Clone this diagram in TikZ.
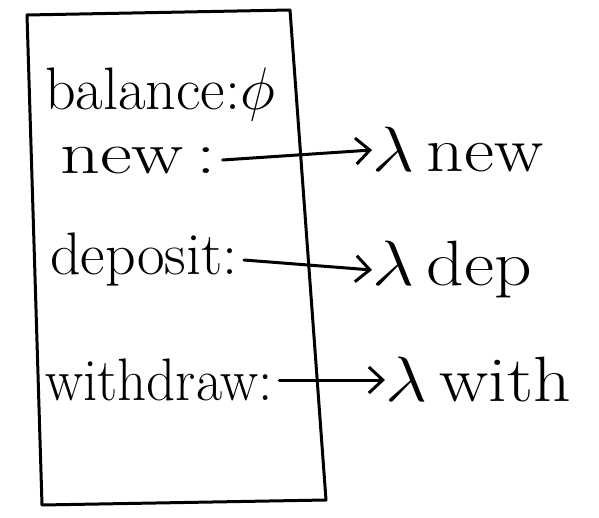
\RequirePackage{fix-cm}
\documentclass[tikz,border=0pt]{standalone}
\usepackage{amssymb}
\usepackage{tikz}
\usetikzlibrary{positioning,arrows.meta}

\tikzset{
  hand/.style={line width=3pt, line cap=round, line join=round},
  barb/.style={-{Straight Barb[length=14pt,width=26pt,line width=3pt]}},
  field/.style={anchor=west, inner sep=0pt, font=\fontsize{60}{64}\selectfont},
  lam/.style={anchor=west, inner sep=0pt, xscale=1.15, font=\fontsize{64}{68}\selectfont}
}

\begin{document}
\begin{tikzpicture}[x=1pt,y=-1pt]
		\useasboundingbox (0,0) rectangle (599,518);
		% the frame
		\draw[hand] (27,15) -- (290,10) -- (326,500) -- (42,505) -- cycle;
		% entries
		\node[field] (bal) at (45,95) {balance:$\phi$};
		\node[field, xscale=1.3] (new) at (60,160) {new\,:};
		\node[field] (dep) at (50,260) {deposit:};
		\node[field, xscale=0.95] (with) at (45,380) {withdraw:};
		% closures
		\node[lam] (lnew) at (372,150) {$\lambda$\,new};
		\node[lam] (ldep) at (372,270) {$\lambda$\,dep};
		\node[lam] (lwith) at (385,380) {$\lambda$\,with};
		\draw[hand, barb] (new.east) ++(6,0) -- (lnew.west);
		\draw[hand, barb] (dep.east) ++(6,0) -- (ldep.west);
		\draw[hand, barb] (with.east) ++(6,0) -- (lwith.west);
		
		\end{tikzpicture}
\end{document}
